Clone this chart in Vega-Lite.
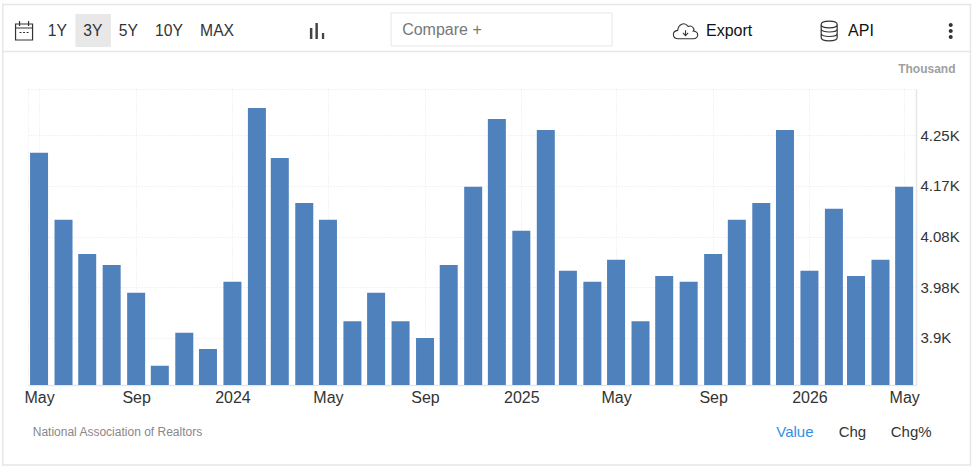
{
"$schema":"https://vega.github.io/schema/vega-lite/v6.json",
"width":888,"height":296,
"autosize":{"type":"none"},
"padding":{"left":28,"top":89,"right":58,"bottom":85},
"background":"white",
"config":{"view":{"stroke":"#e6e6e6","strokeDash":[1,2]},"font":"Liberation Sans"},
"resolve":{"axis":{"x":"independent","y":"independent"}},
"layer":[
{"data":{"values":[{"shape":"frame"}]},"mark":{"type":"rect","fill":null,"stroke":"#e6e6e6","strokeWidth":1.5,"clip":false},
"encoding":{"x":{"datum":{"year":2023,"month":3,"date":16,"utc":true},"type":"temporal","axis":null},"x2":{"datum":{"year":2026,"month":7,"date":24,"utc":true}},"y":{"datum":4.476,"type":"quantitative","axis":null},"y2":{"datum":3.6807}}},
{"data":{"values":[{"shape":"header"}]},"mark":{"type":"rule","stroke":"#e6e6e6","strokeWidth":1.5},
"encoding":{"x":{"datum":{"year":2023,"month":3,"date":16,"utc":true},"type":"temporal","axis":null},"x2":{"datum":{"year":2026,"month":7,"date":24,"utc":true}},"y":{"datum":4.3948,"type":"quantitative","axis":null}}},
{"data":{"values":[{"shape":"selected"}]},"mark":{"type":"rect","fill":"#e8e8e8"},
"encoding":{"x":{"datum":{"year":2023,"month":6,"date":16,"utc":true},"type":"temporal","axis":null},"x2":{"datum":{"year":2023,"month":7,"date":31,"utc":true}},"y":{"datum":4.4596,"type":"quantitative","axis":null},"y2":{"datum":4.4026}}},
{"data":{"values":[{"shape":"compare"}]},"mark":{"type":"rect","fill":null,"stroke":"#e6e6e6","strokeWidth":1},
"encoding":{"x":{"datum":{"year":2024,"month":7,"date":20,"utc":true},"type":"temporal","axis":null},"x2":{"datum":{"year":2025,"month":4,"date":26,"utc":true}},"y":{"datum":4.4613,"type":"quantitative","axis":null},"y2":{"datum":4.4043}}},
{"data":{"values":[{"icon":"calendar"}]},"mark":{"type":"point","filled":false,"stroke":"#333333","strokeWidth":1.2,"opacity":1,"size":400,"shape":"M-0.85,-0.7H0.85V0.9H-0.85Z M-0.85,-0.3H0.85 M-0.45,-1V-0.5 M0.45,-1V-0.5 M-0.45,0.15H-0.25 M-0.1,0.15H0.1 M0.25,0.15H0.45"},
"encoding":{"x":{"datum":{"year":2023,"month":4,"date":12,"utc":true},"type":"temporal","axis":null},"y":{"datum":4.4302,"type":"quantitative","axis":null}}},
{"data":{"values":[{"icon":"chart"}]},"mark":{"type":"point","filled":true,"fill":"#444444","opacity":1,"size":400,"shape":"M-0.7,-0.3H-0.45V0.8H-0.7Z M-0.15,-0.8H0.1V0.8H-0.15Z M0.5,0.2H0.73V0.8H0.5Z"},
"encoding":{"x":{"datum":{"year":2024,"month":4,"date":17,"utc":true},"type":"temporal","axis":null},"y":{"datum":4.4302,"type":"quantitative","axis":null}}},
{"data":{"values":[{"icon":"cloud"}]},"mark":{"type":"point","filled":false,"stroke":"#333333","strokeWidth":1.1,"opacity":1,"size":676,"shape":"M-0.55,0.6 C-1.05,0.6 -1.05,0 -0.6,-0.05 C-0.55,-0.5 -0.1,-0.75 0.2,-0.35 C0.55,-0.5 0.72,-0.1 0.6,0 C1.05,0.05 1.05,0.6 0.6,0.6 Z M0,-0.05 V0.35 M-0.2,0.15 L0,0.37 L0.2,0.15"},
"encoding":{"x":{"datum":{"year":2025,"month":7,"date":28,"utc":true},"type":"temporal","axis":null},"y":{"datum":4.4302,"type":"quantitative","axis":null}}},
{"data":{"values":[{"icon":"database"}]},"mark":{"type":"point","filled":false,"stroke":"#333333","strokeWidth":1.2,"opacity":1,"size":400,"shape":"M-0.8,-0.65 C-0.8,-1.1 0.8,-1.1 0.8,-0.65 C0.8,-0.2 -0.8,-0.2 -0.8,-0.65 Z M-0.8,-0.65 V0.65 C-0.8,1.1 0.8,1.1 0.8,0.65 V-0.65 M-0.8,-0.2 C-0.8,0.2 0.8,0.2 0.8,-0.2 M-0.8,0.25 C-0.8,0.65 0.8,0.65 0.8,0.25"},
"encoding":{"x":{"datum":{"year":2026,"month":1,"date":26,"utc":true},"type":"temporal","axis":null},"y":{"datum":4.4302,"type":"quantitative","axis":null}}},
{"data":{"values":[{"icon":"menu"}]},"mark":{"type":"point","filled":true,"fill":"#333333","opacity":1,"size":400,"shape":"M-0.2,-0.6 a0.2,0.2 0 1 0 0.4,0 a0.2,0.2 0 1 0 -0.4,0 Z M-0.2,0 a0.2,0.2 0 1 0 0.4,0 a0.2,0.2 0 1 0 -0.4,0 Z M-0.2,0.6 a0.2,0.2 0 1 0 0.4,0 a0.2,0.2 0 1 0 -0.4,0 Z"},
"encoding":{"x":{"datum":{"year":2026,"month":6,"date":29,"utc":true},"type":"temporal","axis":null},"y":{"datum":4.4302,"type":"quantitative","axis":null}}},
{"data":{"values":[{"label":"1Y"}]},"mark":{"type":"text","align":"left","baseline":"middle","fontSize":15.7,"fill":"#333333"},
"encoding":{"text":{"field":"label"},"x":{"datum":{"year":2023,"month":5,"date":12,"utc":true},"type":"temporal","axis":null},"y":{"datum":4.4302,"type":"quantitative","axis":null}}},
{"data":{"values":[{"label":"3Y"}]},"mark":{"type":"text","align":"left","baseline":"middle","fontSize":15.7,"fill":"#333333"},
"encoding":{"text":{"field":"label"},"x":{"datum":{"year":2023,"month":6,"date":26,"utc":true},"type":"temporal","axis":null},"y":{"datum":4.4302,"type":"quantitative","axis":null}}},
{"data":{"values":[{"label":"5Y"}]},"mark":{"type":"text","align":"left","baseline":"middle","fontSize":15.7,"fill":"#333333"},
"encoding":{"text":{"field":"label"},"x":{"datum":{"year":2023,"month":8,"date":10,"utc":true},"type":"temporal","axis":null},"y":{"datum":4.4302,"type":"quantitative","axis":null}}},
{"data":{"values":[{"label":"10Y"}]},"mark":{"type":"text","align":"left","baseline":"middle","fontSize":15.7,"fill":"#333333"},
"encoding":{"text":{"field":"label"},"x":{"datum":{"year":2023,"month":9,"date":25,"utc":true},"type":"temporal","axis":null},"y":{"datum":4.4302,"type":"quantitative","axis":null}}},
{"data":{"values":[{"label":"MAX"}]},"mark":{"type":"text","align":"left","baseline":"middle","fontSize":15.7,"fill":"#333333"},
"encoding":{"text":{"field":"label"},"x":{"datum":{"year":2023,"month":11,"date":21,"utc":true},"type":"temporal","axis":null},"y":{"datum":4.4302,"type":"quantitative","axis":null}}},
{"data":{"values":[{"label":"Compare +"}]},"mark":{"type":"text","align":"left","baseline":"middle","fontSize":16,"fill":"#777777"},
"encoding":{"text":{"field":"label"},"x":{"datum":{"year":2024,"month":8,"date":3,"utc":true},"type":"temporal","axis":null},"y":{"datum":4.4319,"type":"quantitative","axis":null}}},
{"data":{"values":[{"label":"Export"}]},"mark":{"type":"text","align":"left","baseline":"middle","fontSize":16,"fill":"#111111"},
"encoding":{"text":{"field":"label"},"x":{"datum":{"year":2025,"month":8,"date":23,"utc":true},"type":"temporal","axis":null},"y":{"datum":4.4302,"type":"quantitative","axis":null}}},
{"data":{"values":[{"label":"API"}]},"mark":{"type":"text","align":"left","baseline":"middle","fontSize":16,"fill":"#111111"},
"encoding":{"text":{"field":"label"},"x":{"datum":{"year":2026,"month":2,"date":19,"utc":true},"type":"temporal","axis":null},"y":{"datum":4.4302,"type":"quantitative","axis":null}}},
{"data":{"values":[{"label":"Thousand"}]},"mark":{"type":"text","align":"right","baseline":"middle","fontSize":12,"fontWeight":"bold","fill":"#a0a0a0"},
"encoding":{"text":{"field":"label"},"x":{"datum":{"year":2026,"month":7,"date":5,"utc":true},"type":"temporal","axis":null},"y":{"datum":4.3646,"type":"quantitative","axis":null}}},
{"data":{"values":[{"label":"National Association of Realtors"}]},"mark":{"type":"text","align":"left","baseline":"middle","fontSize":12,"fill":"#888888"},
"encoding":{"text":{"field":"label"},"x":{"datum":{"year":2023,"month":4,"date":23,"utc":true},"type":"temporal","axis":null},"y":{"datum":3.7377,"type":"quantitative","axis":null}}},
{"data":{"values":[{"label":"Value"}]},"mark":{"type":"text","align":"left","baseline":"middle","fontSize":15,"fill":"#2f8fe6"},
"encoding":{"text":{"field":"label"},"x":{"datum":{"year":2025,"month":11,"date":20,"utc":true},"type":"temporal","axis":null},"y":{"datum":3.7377,"type":"quantitative","axis":null}}},
{"data":{"values":[{"label":"Chg"}]},"mark":{"type":"text","align":"left","baseline":"middle","fontSize":15,"fill":"#333333"},
"encoding":{"text":{"field":"label"},"x":{"datum":{"year":2026,"month":2,"date":7,"utc":true},"type":"temporal","axis":null},"y":{"datum":3.7377,"type":"quantitative","axis":null}}},
{"data":{"values":[{"label":"Chg%"}]},"mark":{"type":"text","align":"left","baseline":"middle","fontSize":15,"fill":"#333333"},
"encoding":{"text":{"field":"label"},"x":{"datum":{"year":2026,"month":4,"date":14,"utc":true},"type":"temporal","axis":null},"y":{"datum":3.7377,"type":"quantitative","axis":null}}},
{"data":{"values":[
{"month":"2023-05-01","sales":4.22},{"month":"2023-06-01","sales":4.104},{"month":"2023-07-01","sales":4.045},{"month":"2023-08-01","sales":4.026},{"month":"2023-09-01","sales":3.978},{"month":"2023-10-01","sales":3.852},{"month":"2023-11-01","sales":3.909},{"month":"2023-12-01","sales":3.881},
{"month":"2024-01-01","sales":3.997},{"month":"2024-02-01","sales":4.297},{"month":"2024-03-01","sales":4.211},{"month":"2024-04-01","sales":4.133},{"month":"2024-05-01","sales":4.104},{"month":"2024-06-01","sales":3.929},{"month":"2024-07-01","sales":3.978},{"month":"2024-08-01","sales":3.929},{"month":"2024-09-01","sales":3.90},{"month":"2024-10-01","sales":4.026},{"month":"2024-11-01","sales":4.161},{"month":"2024-12-01","sales":4.278},
{"month":"2025-01-01","sales":4.085},{"month":"2025-02-01","sales":4.259},{"month":"2025-03-01","sales":4.016},{"month":"2025-04-01","sales":3.997},{"month":"2025-05-01","sales":4.035},{"month":"2025-06-01","sales":3.929},{"month":"2025-07-01","sales":4.007},{"month":"2025-08-01","sales":3.997},{"month":"2025-09-01","sales":4.045},{"month":"2025-10-01","sales":4.104},{"month":"2025-11-01","sales":4.133},{"month":"2025-12-01","sales":4.259},
{"month":"2026-01-01","sales":4.016},{"month":"2026-02-01","sales":4.123},{"month":"2026-03-01","sales":4.007},{"month":"2026-04-01","sales":4.035},{"month":"2026-05-01","sales":4.161}
]},
"mark":{"type":"bar","width":18,"fill":"#4f81bd","clip":true},
"encoding":{
"x":{"field":"month","type":"temporal","title":null,"scale":{"type":"utc","domain":["2023-04-17","2026-05-16"],"padding":0,"nice":false},
"axis":{"orient":"bottom","values":["2023-05-01","2023-09-01","2024-01-01","2024-05-01","2024-09-01","2025-01-01","2025-05-01","2025-09-01","2026-01-01","2026-05-01"],"labelExpr":"utcmonth(datum.value)==0?utcFormat(datum.value,'%Y'):utcFormat(datum.value,'%b')","labelFontSize":16,"labelColor":"#333333","labelFont":"Liberation Sans","labelPadding":4,"labelAngle":0,"labelAlign":"center","labelFlush":false,"labelOverlap":false,"ticks":false,"domainColor":"#e6e6e6","domainWidth":1.5,"grid":true,"gridColor":"#e6e6e6","gridDash":[1,2],"gridWidth":1}},
"y":{"field":"sales","type":"quantitative","title":null,"scale":{"domain":[3.8188,4.33],"zero":false,"nice":false},
"axis":{"orient":"right","values":[3.9,3.9875,4.075,4.1625,4.25],"labelExpr":"datum.value==3.9?'3.9K':datum.value==3.9875?'3.98K':datum.value==4.075?'4.08K':datum.value==4.1625?'4.17K':'4.25K'","labelFontSize":15,"labelColor":"#333333","labelFont":"Liberation Sans","labelPadding":4,"ticks":false,"domainColor":"#e6e6e6","domainWidth":1.5,"grid":true,"gridColor":"#e6e6e6","gridDash":[1,2],"gridWidth":1}}
}}
]
}
